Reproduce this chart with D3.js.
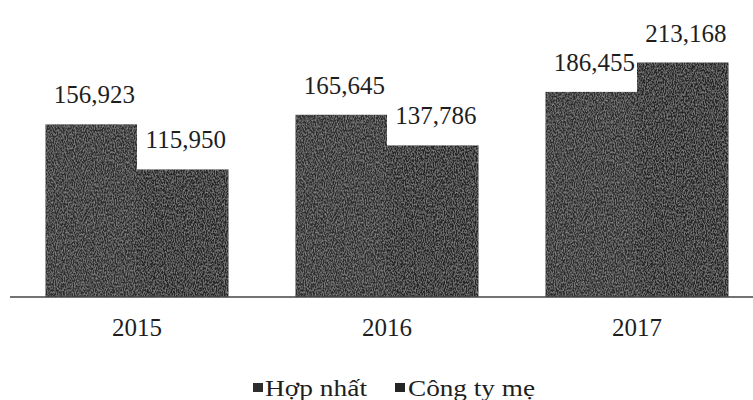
<!DOCTYPE html>
<html>
<head>
<meta charset="utf-8">
<script src="https://cdn.jsdelivr.net/npm/d3@7/dist/d3.min.js"></script>
<style>
html,body{margin:0;padding:0;background:#fff;}
svg{display:block;}
svg text{font-family:"Liberation Serif","Times New Roman",serif;}
</style>
</head>
<body>
<svg id="chart" width="753" height="400"></svg>
<script>
const years = ["2015", "2016", "2017"];
const seriesNames = ["Hợp nhất", "Công ty mẹ"];
const hopNhat = [156923, 165645, 186455];
const congTyMe = [115950, 137786, 213168];

const svg = d3.select("#chart");
const serif = "'Liberation Serif', 'Times New Roman', serif";

const defs = svg.append("defs");
const filt = defs.append("filter").attr("id", "grain").attr("x", 0).attr("y", 0).attr("width", 1).attr("height", 1);
filt.append("feTurbulence").attr("type", "fractalNoise").attr("baseFrequency", "0.9 0.5").attr("numOctaves", 2).attr("seed", 3).attr("result", "noise");
filt.append("feColorMatrix").attr("in", "noise").attr("type", "matrix")
  .attr("values", "0 0 0 0 0.55  0 0 0 0 0.55  0 0 0 0 0.55  0 0 0 0.9 -0.35").attr("result", "spk");
filt.append("feComposite").attr("in", "spk").attr("in2", "SourceGraphic").attr("operator", "in").attr("result", "spk2");
filt.append("feMerge").selectAll("feMergeNode").data(["SourceGraphic", "spk2"]).enter()
  .append("feMergeNode").attr("in", d => d);

const x0 = d3.scaleBand().domain(years).range([12, 762]).paddingInner(0.268).paddingOuter(0.134);
const x1 = d3.scaleBand().domain(seriesNames).range([0, x0.bandwidth()]);
const y = d3.scaleLinear().domain([0, 250000]).range([297, 22]);

const data = years.map((yr, i) => ({
  year: yr,
  vals: [{s: seriesNames[0], v: hopNhat[i]}, {s: seriesNames[1], v: congTyMe[i]}]
}));

const fmt = d3.format(",");
const colors = {"Hợp nhất": "#2e2e2e", "Công ty mẹ": "#262626"};

const g = svg.append("g");
const groups = g.selectAll("g.grp").data(data).enter().append("g")
  .attr("transform", d => `translate(${x0(d.year)},0)`);

groups.selectAll("rect").data(d => d.vals).enter().append("rect")
  .attr("x", d => x1(d.s))
  .attr("y", d => y(d.v))
  .attr("width", x1.bandwidth())
  .attr("height", d => y(0) - y(d.v))
  .attr("fill", d => colors[d.s])
  .attr("filter", "url(#grain)");

groups.selectAll("text").data(d => d.vals).enter().append("text")
  .attr("x", d => x1(d.s) + x1.bandwidth() / 2 + 3)
  .attr("y", d => y(d.v) - 21)
  .attr("text-anchor", "middle")
  .attr("font-family", serif)
  .attr("font-size", 25)
  .attr("fill", "#1e1e1e")
  .text(d => fmt(d.v));

// baseline axis
const xAxis = d3.axisBottom(x0).tickSize(0).tickPadding(0);
const ax = svg.append("g").attr("transform", `translate(0,${y(0)})`).call(xAxis);
ax.attr("font-family", serif);
ax.select(".domain").remove();
ax.append("line").attr("x1", 10).attr("x2", 753).attr("y1", 0).attr("y2", 0)
  .attr("stroke", "#444").attr("stroke-width", 1.6);
ax.selectAll(".tick text")
  .attr("y", 39)
  .attr("dy", 0)
  .attr("font-family", serif)
  .attr("font-size", 25)
  .attr("fill", "#1e1e1e");

// legend
const legendItems = [
  {name: seriesNames[0], sx: 253, tx: 265, tw: 102},
  {name: seriesNames[1], sx: 395, tx: 408, tw: 127}
];
const lg = svg.append("g");
lg.selectAll("rect").data(legendItems).enter().append("rect")
  .attr("x", d => d.sx).attr("y", 383).attr("width", 10).attr("height", 9)
  .attr("fill", d => colors[d.name]);
lg.selectAll("text").data(legendItems).enter().append("text")
  .attr("x", d => d.tx).attr("y", 396)
  .attr("font-family", serif)
  .attr("font-size", 24)
  .attr("textLength", d => d.tw)
  .attr("lengthAdjust", "spacingAndGlyphs")
  .attr("fill", "#1e1e1e")
  .text(d => d.name);
</script>
</body>
</html>
